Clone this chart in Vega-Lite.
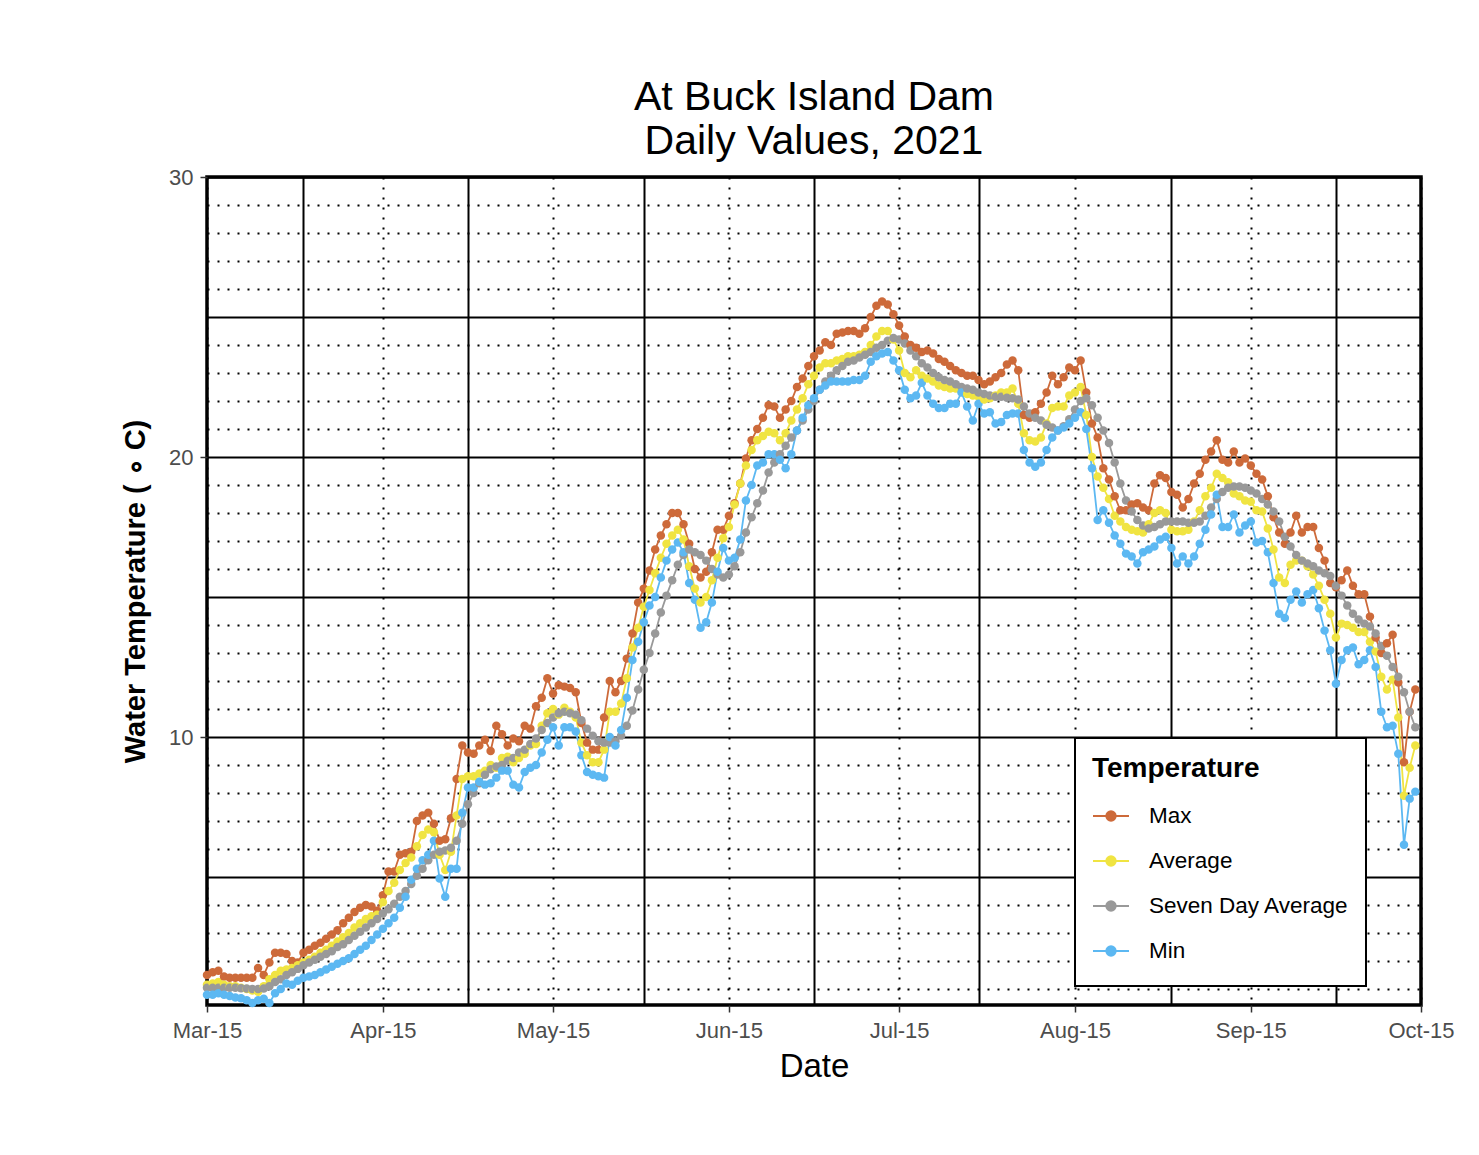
{
  "$schema": "https://vega.github.io/schema/vega-lite/v6.json",
  "autosize": {"type": "none"},
  "padding": {"left": 207, "top": 177, "right": 58, "bottom": 150},
  "width": 1214,
  "height": 828,
  "background": "white",
  "title": {
    "text": ["At Buck Island Dam ", "Daily Values, 2021"],
    "fontSize": 41,
    "fontWeight": "normal",
    "font": "Liberation Sans",
    "color": "black",
    "anchor": "middle",
    "frame": "group",
    "lineHeight": 44,
    "offset": 3
  },
  "data": {"values": [
{"date":"2021-03-15","Max":1.5,"Average":1.15,"Seven Day Average":1.05,"Min":0.8},
{"date":"2021-03-16","Max":1.6,"Average":1.2,"Seven Day Average":1.05,"Min":0.8},
{"date":"2021-03-17","Max":1.65,"Average":1.25,"Seven Day Average":1.05,"Min":0.85},
{"date":"2021-03-18","Max":1.45,"Average":1.15,"Seven Day Average":1.05,"Min":0.8},
{"date":"2021-03-19","Max":1.4,"Average":1.1,"Seven Day Average":1.05,"Min":0.75},
{"date":"2021-03-20","Max":1.4,"Average":1.1,"Seven Day Average":1.05,"Min":0.7},
{"date":"2021-03-21","Max":1.4,"Average":1.05,"Seven Day Average":1.03,"Min":0.67},
{"date":"2021-03-22","Max":1.4,"Average":1.0,"Seven Day Average":1.02,"Min":0.6},
{"date":"2021-03-23","Max":1.4,"Average":0.95,"Seven Day Average":1.0,"Min":0.5},
{"date":"2021-03-24","Max":1.75,"Average":0.9,"Seven Day Average":1.0,"Min":0.6},
{"date":"2021-03-25","Max":1.5,"Average":1.1,"Seven Day Average":1.02,"Min":0.65},
{"date":"2021-03-26","Max":1.95,"Average":1.35,"Seven Day Average":1.1,"Min":0.5},
{"date":"2021-03-27","Max":2.3,"Average":1.5,"Seven Day Average":1.25,"Min":0.85},
{"date":"2021-03-28","Max":2.3,"Average":1.65,"Seven Day Average":1.35,"Min":1.0},
{"date":"2021-03-29","Max":2.25,"Average":1.7,"Seven Day Average":1.5,"Min":1.2},
{"date":"2021-03-30","Max":2.0,"Average":1.75,"Seven Day Average":1.6,"Min":1.15},
{"date":"2021-03-31","Max":1.95,"Average":1.85,"Seven Day Average":1.72,"Min":1.3},
{"date":"2021-04-01","Max":2.3,"Average":1.95,"Seven Day Average":1.85,"Min":1.4},
{"date":"2021-04-02","Max":2.4,"Average":2.05,"Seven Day Average":1.95,"Min":1.45},
{"date":"2021-04-03","Max":2.55,"Average":2.15,"Seven Day Average":2.05,"Min":1.5},
{"date":"2021-04-04","Max":2.65,"Average":2.3,"Seven Day Average":2.15,"Min":1.6},
{"date":"2021-04-05","Max":2.8,"Average":2.4,"Seven Day Average":2.25,"Min":1.7},
{"date":"2021-04-06","Max":2.95,"Average":2.55,"Seven Day Average":2.35,"Min":1.8},
{"date":"2021-04-07","Max":3.1,"Average":2.7,"Seven Day Average":2.5,"Min":1.9},
{"date":"2021-04-08","Max":3.35,"Average":2.85,"Seven Day Average":2.6,"Min":2.0},
{"date":"2021-04-09","Max":3.55,"Average":3.0,"Seven Day Average":2.75,"Min":2.1},
{"date":"2021-04-10","Max":3.75,"Average":3.2,"Seven Day Average":2.9,"Min":2.25},
{"date":"2021-04-11","Max":3.9,"Average":3.35,"Seven Day Average":3.05,"Min":2.4},
{"date":"2021-04-12","Max":4.0,"Average":3.5,"Seven Day Average":3.2,"Min":2.55},
{"date":"2021-04-13","Max":3.95,"Average":3.6,"Seven Day Average":3.35,"Min":2.75},
{"date":"2021-04-14","Max":3.8,"Average":3.65,"Seven Day Average":3.5,"Min":2.95},
{"date":"2021-04-15","Max":4.35,"Average":4.1,"Seven Day Average":3.7,"Min":3.15},
{"date":"2021-04-16","Max":5.2,"Average":4.5,"Seven Day Average":3.85,"Min":3.35},
{"date":"2021-04-17","Max":5.2,"Average":4.8,"Seven Day Average":4.05,"Min":3.55},
{"date":"2021-04-18","Max":5.8,"Average":5.25,"Seven Day Average":4.3,"Min":3.9},
{"date":"2021-04-19","Max":5.85,"Average":5.5,"Seven Day Average":4.5,"Min":4.3},
{"date":"2021-04-20","Max":5.9,"Average":5.7,"Seven Day Average":4.75,"Min":4.9},
{"date":"2021-04-21","Max":7.0,"Average":6.1,"Seven Day Average":5.05,"Min":5.3},
{"date":"2021-04-22","Max":7.2,"Average":6.5,"Seven Day Average":5.3,"Min":5.6},
{"date":"2021-04-23","Max":7.3,"Average":6.7,"Seven Day Average":5.6,"Min":5.8},
{"date":"2021-04-24","Max":6.9,"Average":6.6,"Seven Day Average":5.8,"Min":6.3},
{"date":"2021-04-25","Max":6.3,"Average":5.8,"Seven Day Average":5.9,"Min":4.95},
{"date":"2021-04-26","Max":6.35,"Average":5.25,"Seven Day Average":5.95,"Min":4.3},
{"date":"2021-04-27","Max":7.1,"Average":5.9,"Seven Day Average":6.05,"Min":5.3},
{"date":"2021-04-28","Max":8.5,"Average":7.2,"Seven Day Average":6.3,"Min":5.3},
{"date":"2021-04-29","Max":9.7,"Average":8.5,"Seven Day Average":6.9,"Min":7.3},
{"date":"2021-04-30","Max":9.45,"Average":8.6,"Seven Day Average":7.6,"Min":8.2},
{"date":"2021-05-01","Max":9.4,"Average":8.6,"Seven Day Average":8.0,"Min":8.2},
{"date":"2021-05-02","Max":9.7,"Average":8.7,"Seven Day Average":8.35,"Min":8.4},
{"date":"2021-05-03","Max":9.9,"Average":8.8,"Seven Day Average":8.65,"Min":8.3},
{"date":"2021-05-04","Max":9.5,"Average":9.0,"Seven Day Average":8.85,"Min":8.35},
{"date":"2021-05-05","Max":10.4,"Average":8.9,"Seven Day Average":8.95,"Min":8.55},
{"date":"2021-05-06","Max":10.1,"Average":9.25,"Seven Day Average":9.0,"Min":8.8},
{"date":"2021-05-07","Max":9.7,"Average":9.3,"Seven Day Average":9.15,"Min":8.8},
{"date":"2021-05-08","Max":9.95,"Average":9.1,"Seven Day Average":9.25,"Min":8.3},
{"date":"2021-05-09","Max":9.85,"Average":9.25,"Seven Day Average":9.45,"Min":8.2},
{"date":"2021-05-10","Max":10.4,"Average":9.4,"Seven Day Average":9.55,"Min":8.75},
{"date":"2021-05-11","Max":10.3,"Average":9.7,"Seven Day Average":9.75,"Min":8.9},
{"date":"2021-05-12","Max":11.1,"Average":9.75,"Seven Day Average":9.95,"Min":9.0},
{"date":"2021-05-13","Max":11.4,"Average":10.4,"Seven Day Average":10.25,"Min":9.45},
{"date":"2021-05-14","Max":12.1,"Average":10.85,"Seven Day Average":10.5,"Min":9.9},
{"date":"2021-05-15","Max":11.55,"Average":11.0,"Seven Day Average":10.7,"Min":10.35},
{"date":"2021-05-16","Max":11.85,"Average":10.8,"Seven Day Average":10.85,"Min":9.7},
{"date":"2021-05-17","Max":11.8,"Average":11.05,"Seven Day Average":10.9,"Min":10.35},
{"date":"2021-05-18","Max":11.75,"Average":10.9,"Seven Day Average":10.85,"Min":10.35},
{"date":"2021-05-19","Max":11.6,"Average":10.7,"Seven Day Average":10.8,"Min":10.2},
{"date":"2021-05-20","Max":10.5,"Average":9.8,"Seven Day Average":10.6,"Min":9.35},
{"date":"2021-05-21","Max":9.8,"Average":9.35,"Seven Day Average":10.3,"Min":8.75},
{"date":"2021-05-22","Max":9.55,"Average":9.1,"Seven Day Average":10.05,"Min":8.65},
{"date":"2021-05-23","Max":9.55,"Average":9.1,"Seven Day Average":9.85,"Min":8.6},
{"date":"2021-05-24","Max":10.7,"Average":9.55,"Seven Day Average":9.8,"Min":8.55},
{"date":"2021-05-25","Max":12.0,"Average":10.9,"Seven Day Average":9.8,"Min":10.0},
{"date":"2021-05-26","Max":11.6,"Average":10.9,"Seven Day Average":9.85,"Min":9.7},
{"date":"2021-05-27","Max":12.0,"Average":11.2,"Seven Day Average":10.05,"Min":10.25},
{"date":"2021-05-28","Max":12.8,"Average":12.1,"Seven Day Average":10.4,"Min":11.4},
{"date":"2021-05-29","Max":13.7,"Average":13.2,"Seven Day Average":10.95,"Min":12.75},
{"date":"2021-05-30","Max":14.8,"Average":13.9,"Seven Day Average":11.7,"Min":13.4},
{"date":"2021-05-31","Max":15.3,"Average":14.65,"Seven Day Average":12.4,"Min":14.1},
{"date":"2021-06-01","Max":15.95,"Average":15.25,"Seven Day Average":13.0,"Min":14.7},
{"date":"2021-06-02","Max":16.7,"Average":15.85,"Seven Day Average":13.7,"Min":15.0},
{"date":"2021-06-03","Max":17.2,"Average":16.4,"Seven Day Average":14.45,"Min":15.7},
{"date":"2021-06-04","Max":17.6,"Average":16.9,"Seven Day Average":15.05,"Min":16.3},
{"date":"2021-06-05","Max":18.0,"Average":17.2,"Seven Day Average":15.6,"Min":16.7},
{"date":"2021-06-06","Max":18.0,"Average":17.4,"Seven Day Average":16.15,"Min":16.95},
{"date":"2021-06-07","Max":17.6,"Average":17.05,"Seven Day Average":16.5,"Min":16.6},
{"date":"2021-06-08","Max":16.9,"Average":16.1,"Seven Day Average":16.7,"Min":15.5},
{"date":"2021-06-09","Max":16.0,"Average":15.3,"Seven Day Average":16.6,"Min":14.9},
{"date":"2021-06-10","Max":15.7,"Average":14.8,"Seven Day Average":16.5,"Min":13.9},
{"date":"2021-06-11","Max":15.9,"Average":15.0,"Seven Day Average":16.3,"Min":14.1},
{"date":"2021-06-12","Max":16.6,"Average":15.6,"Seven Day Average":16.0,"Min":14.8},
{"date":"2021-06-13","Max":17.4,"Average":16.4,"Seven Day Average":15.8,"Min":15.9},
{"date":"2021-06-14","Max":17.4,"Average":17.1,"Seven Day Average":15.7,"Min":16.75},
{"date":"2021-06-15","Max":17.9,"Average":17.5,"Seven Day Average":15.8,"Min":16.3},
{"date":"2021-06-16","Max":18.35,"Average":18.3,"Seven Day Average":16.1,"Min":16.4},
{"date":"2021-06-17","Max":19.05,"Average":19.05,"Seven Day Average":16.6,"Min":17.05},
{"date":"2021-06-18","Max":19.95,"Average":19.7,"Seven Day Average":17.3,"Min":18.45},
{"date":"2021-06-19","Max":20.6,"Average":20.25,"Seven Day Average":17.85,"Min":19.0},
{"date":"2021-06-20","Max":21.0,"Average":20.6,"Seven Day Average":18.35,"Min":19.7},
{"date":"2021-06-21","Max":21.4,"Average":20.75,"Seven Day Average":18.8,"Min":19.8},
{"date":"2021-06-22","Max":21.85,"Average":20.9,"Seven Day Average":19.45,"Min":20.1},
{"date":"2021-06-23","Max":21.8,"Average":20.85,"Seven Day Average":19.8,"Min":20.1},
{"date":"2021-06-24","Max":21.4,"Average":20.6,"Seven Day Average":20.1,"Min":19.9},
{"date":"2021-06-25","Max":21.7,"Average":20.85,"Seven Day Average":20.4,"Min":19.6},
{"date":"2021-06-26","Max":22.0,"Average":21.3,"Seven Day Average":20.7,"Min":20.1},
{"date":"2021-06-27","Max":22.5,"Average":21.7,"Seven Day Average":20.95,"Min":20.95},
{"date":"2021-06-28","Max":22.8,"Average":22.1,"Seven Day Average":21.3,"Min":21.4},
{"date":"2021-06-29","Max":23.25,"Average":22.6,"Seven Day Average":21.7,"Min":21.85},
{"date":"2021-06-30","Max":23.6,"Average":22.9,"Seven Day Average":22.0,"Min":22.1},
{"date":"2021-07-01","Max":23.8,"Average":23.2,"Seven Day Average":22.4,"Min":22.4},
{"date":"2021-07-02","Max":24.1,"Average":23.35,"Seven Day Average":22.7,"Min":22.55},
{"date":"2021-07-03","Max":24.0,"Average":23.35,"Seven Day Average":22.9,"Min":22.7},
{"date":"2021-07-04","Max":24.4,"Average":23.45,"Seven Day Average":23.1,"Min":22.7},
{"date":"2021-07-05","Max":24.45,"Average":23.5,"Seven Day Average":23.25,"Min":22.7},
{"date":"2021-07-06","Max":24.5,"Average":23.6,"Seven Day Average":23.4,"Min":22.7},
{"date":"2021-07-07","Max":24.5,"Average":23.6,"Seven Day Average":23.45,"Min":22.75},
{"date":"2021-07-08","Max":24.4,"Average":23.65,"Seven Day Average":23.55,"Min":22.75},
{"date":"2021-07-09","Max":24.6,"Average":23.75,"Seven Day Average":23.65,"Min":22.9},
{"date":"2021-07-10","Max":25.0,"Average":24.0,"Seven Day Average":23.75,"Min":23.4},
{"date":"2021-07-11","Max":25.4,"Average":24.3,"Seven Day Average":23.9,"Min":23.6},
{"date":"2021-07-12","Max":25.55,"Average":24.5,"Seven Day Average":24.0,"Min":23.7},
{"date":"2021-07-13","Max":25.45,"Average":24.5,"Seven Day Average":24.15,"Min":23.75},
{"date":"2021-07-14","Max":25.1,"Average":24.2,"Seven Day Average":24.25,"Min":23.45},
{"date":"2021-07-15","Max":24.7,"Average":23.8,"Seven Day Average":24.2,"Min":23.1},
{"date":"2021-07-16","Max":24.3,"Average":23.0,"Seven Day Average":24.05,"Min":22.4},
{"date":"2021-07-17","Max":24.0,"Average":22.85,"Seven Day Average":23.8,"Min":22.1},
{"date":"2021-07-18","Max":23.9,"Average":23.1,"Seven Day Average":23.6,"Min":22.2},
{"date":"2021-07-19","Max":23.75,"Average":22.9,"Seven Day Average":23.35,"Min":22.65},
{"date":"2021-07-20","Max":23.8,"Average":22.8,"Seven Day Average":23.2,"Min":22.2},
{"date":"2021-07-21","Max":23.7,"Average":22.7,"Seven Day Average":23.0,"Min":21.9},
{"date":"2021-07-22","Max":23.5,"Average":22.55,"Seven Day Average":22.85,"Min":21.75},
{"date":"2021-07-23","Max":23.4,"Average":22.5,"Seven Day Average":22.75,"Min":21.75},
{"date":"2021-07-24","Max":23.25,"Average":22.45,"Seven Day Average":22.7,"Min":21.9},
{"date":"2021-07-25","Max":23.1,"Average":22.45,"Seven Day Average":22.6,"Min":21.9},
{"date":"2021-07-26","Max":23.0,"Average":22.35,"Seven Day Average":22.5,"Min":22.3},
{"date":"2021-07-27","Max":22.9,"Average":22.25,"Seven Day Average":22.45,"Min":21.8},
{"date":"2021-07-28","Max":22.9,"Average":22.2,"Seven Day Average":22.4,"Min":21.3},
{"date":"2021-07-29","Max":22.75,"Average":22.15,"Seven Day Average":22.3,"Min":21.9},
{"date":"2021-07-30","Max":22.6,"Average":22.05,"Seven Day Average":22.25,"Min":21.55},
{"date":"2021-07-31","Max":22.7,"Average":22.1,"Seven Day Average":22.2,"Min":21.6},
{"date":"2021-08-01","Max":22.85,"Average":22.2,"Seven Day Average":22.15,"Min":21.2},
{"date":"2021-08-02","Max":23.0,"Average":22.3,"Seven Day Average":22.15,"Min":21.25},
{"date":"2021-08-03","Max":23.3,"Average":22.3,"Seven Day Average":22.12,"Min":21.5},
{"date":"2021-08-04","Max":23.45,"Average":22.45,"Seven Day Average":22.1,"Min":21.55},
{"date":"2021-08-05","Max":23.1,"Average":21.9,"Seven Day Average":22.05,"Min":21.55},
{"date":"2021-08-06","Max":21.5,"Average":20.85,"Seven Day Average":21.8,"Min":20.25},
{"date":"2021-08-07","Max":21.4,"Average":20.6,"Seven Day Average":21.55,"Min":19.8},
{"date":"2021-08-08","Max":21.6,"Average":20.55,"Seven Day Average":21.4,"Min":19.65},
{"date":"2021-08-09","Max":21.9,"Average":20.7,"Seven Day Average":21.3,"Min":19.8},
{"date":"2021-08-10","Max":22.3,"Average":21.2,"Seven Day Average":21.15,"Min":20.25},
{"date":"2021-08-11","Max":22.9,"Average":21.75,"Seven Day Average":21.05,"Min":20.7},
{"date":"2021-08-12","Max":22.6,"Average":21.8,"Seven Day Average":20.95,"Min":20.95},
{"date":"2021-08-13","Max":22.85,"Average":21.8,"Seven Day Average":21.1,"Min":21.05},
{"date":"2021-08-14","Max":23.2,"Average":22.2,"Seven Day Average":21.35,"Min":21.2},
{"date":"2021-08-15","Max":23.1,"Average":22.3,"Seven Day Average":21.7,"Min":21.4},
{"date":"2021-08-16","Max":23.45,"Average":22.5,"Seven Day Average":22.0,"Min":21.6},
{"date":"2021-08-17","Max":22.3,"Average":21.5,"Seven Day Average":22.1,"Min":21.0},
{"date":"2021-08-18","Max":21.2,"Average":20.0,"Seven Day Average":21.85,"Min":19.6},
{"date":"2021-08-19","Max":20.7,"Average":19.3,"Seven Day Average":21.4,"Min":17.75},
{"date":"2021-08-20","Max":19.6,"Average":18.9,"Seven Day Average":20.95,"Min":18.1},
{"date":"2021-08-21","Max":19.2,"Average":18.5,"Seven Day Average":20.5,"Min":17.65},
{"date":"2021-08-22","Max":18.6,"Average":17.9,"Seven Day Average":19.8,"Min":17.2},
{"date":"2021-08-23","Max":18.1,"Average":17.7,"Seven Day Average":19.05,"Min":16.9},
{"date":"2021-08-24","Max":18.1,"Average":17.5,"Seven Day Average":18.45,"Min":16.55},
{"date":"2021-08-25","Max":18.3,"Average":17.4,"Seven Day Average":18.05,"Min":16.45},
{"date":"2021-08-26","Max":18.35,"Average":17.35,"Seven Day Average":17.75,"Min":16.2},
{"date":"2021-08-27","Max":18.2,"Average":17.3,"Seven Day Average":17.55,"Min":16.6},
{"date":"2021-08-28","Max":18.1,"Average":17.6,"Seven Day Average":17.45,"Min":16.7},
{"date":"2021-08-29","Max":19.05,"Average":18.0,"Seven Day Average":17.5,"Min":16.8},
{"date":"2021-08-30","Max":19.35,"Average":18.1,"Seven Day Average":17.6,"Min":17.05},
{"date":"2021-08-31","Max":19.25,"Average":18.0,"Seven Day Average":17.7,"Min":17.15},
{"date":"2021-09-01","Max":18.75,"Average":17.4,"Seven Day Average":17.7,"Min":16.75},
{"date":"2021-09-02","Max":18.65,"Average":17.35,"Seven Day Average":17.7,"Min":16.2},
{"date":"2021-09-03","Max":18.2,"Average":17.35,"Seven Day Average":17.7,"Min":16.45},
{"date":"2021-09-04","Max":18.5,"Average":17.4,"Seven Day Average":17.65,"Min":16.2},
{"date":"2021-09-05","Max":19.05,"Average":17.7,"Seven Day Average":17.65,"Min":16.45},
{"date":"2021-09-06","Max":19.4,"Average":18.1,"Seven Day Average":17.7,"Min":16.9},
{"date":"2021-09-07","Max":19.9,"Average":18.6,"Seven Day Average":17.9,"Min":17.4},
{"date":"2021-09-08","Max":20.2,"Average":18.9,"Seven Day Average":18.2,"Min":17.95},
{"date":"2021-09-09","Max":20.6,"Average":19.4,"Seven Day Average":18.5,"Min":18.65},
{"date":"2021-09-10","Max":19.9,"Average":19.25,"Seven Day Average":18.75,"Min":17.5},
{"date":"2021-09-11","Max":19.8,"Average":19.1,"Seven Day Average":18.9,"Min":17.5},
{"date":"2021-09-12","Max":20.2,"Average":18.7,"Seven Day Average":18.95,"Min":17.95},
{"date":"2021-09-13","Max":19.8,"Average":18.6,"Seven Day Average":18.95,"Min":17.3},
{"date":"2021-09-14","Max":19.95,"Average":18.45,"Seven Day Average":18.9,"Min":17.55},
{"date":"2021-09-15","Max":19.7,"Average":18.4,"Seven Day Average":18.8,"Min":17.7},
{"date":"2021-09-16","Max":19.4,"Average":18.1,"Seven Day Average":18.7,"Min":16.95},
{"date":"2021-09-17","Max":19.2,"Average":18.05,"Seven Day Average":18.5,"Min":17.0},
{"date":"2021-09-18","Max":18.6,"Average":17.45,"Seven Day Average":18.3,"Min":16.6},
{"date":"2021-09-19","Max":17.85,"Average":16.7,"Seven Day Average":18.05,"Min":15.5},
{"date":"2021-09-20","Max":17.3,"Average":15.7,"Seven Day Average":17.7,"Min":14.4},
{"date":"2021-09-21","Max":16.9,"Average":15.5,"Seven Day Average":17.15,"Min":14.25},
{"date":"2021-09-22","Max":17.3,"Average":16.15,"Seven Day Average":16.8,"Min":14.9},
{"date":"2021-09-23","Max":17.9,"Average":16.3,"Seven Day Average":16.5,"Min":15.2},
{"date":"2021-09-24","Max":17.3,"Average":16.3,"Seven Day Average":16.3,"Min":14.8},
{"date":"2021-09-25","Max":17.5,"Average":16.1,"Seven Day Average":16.2,"Min":15.1},
{"date":"2021-09-26","Max":17.5,"Average":15.8,"Seven Day Average":16.1,"Min":15.25},
{"date":"2021-09-27","Max":16.75,"Average":15.4,"Seven Day Average":15.95,"Min":14.6},
{"date":"2021-09-28","Max":16.3,"Average":14.9,"Seven Day Average":15.85,"Min":13.8},
{"date":"2021-09-29","Max":15.5,"Average":14.4,"Seven Day Average":15.75,"Min":13.1},
{"date":"2021-09-30","Max":15.35,"Average":13.55,"Seven Day Average":15.4,"Min":11.9},
{"date":"2021-10-01","Max":15.6,"Average":14.05,"Seven Day Average":15.05,"Min":12.75},
{"date":"2021-10-02","Max":15.95,"Average":14.0,"Seven Day Average":14.7,"Min":13.1},
{"date":"2021-10-03","Max":15.4,"Average":13.9,"Seven Day Average":14.4,"Min":13.2},
{"date":"2021-10-04","Max":15.1,"Average":13.75,"Seven Day Average":14.2,"Min":12.6},
{"date":"2021-10-05","Max":15.1,"Average":13.75,"Seven Day Average":14.05,"Min":12.75},
{"date":"2021-10-06","Max":14.3,"Average":13.4,"Seven Day Average":13.95,"Min":13.1},
{"date":"2021-10-07","Max":13.55,"Average":13.05,"Seven Day Average":13.7,"Min":12.5},
{"date":"2021-10-08","Max":13.0,"Average":12.15,"Seven Day Average":13.25,"Min":10.9},
{"date":"2021-10-09","Max":13.35,"Average":11.7,"Seven Day Average":12.9,"Min":10.35},
{"date":"2021-10-10","Max":13.65,"Average":12.05,"Seven Day Average":12.5,"Min":10.4},
{"date":"2021-10-11","Max":11.95,"Average":10.7,"Seven Day Average":12.15,"Min":9.4},
{"date":"2021-10-12","Max":9.1,"Average":7.9,"Seven Day Average":11.6,"Min":6.15},
{"date":"2021-10-13","Max":10.9,"Average":8.9,"Seven Day Average":10.9,"Min":7.8},
{"date":"2021-10-14","Max":11.7,"Average":9.7,"Seven Day Average":10.35,"Min":8.05}
  ]},
  "transform": [
    {"fold": ["Max", "Average", "Seven Day Average", "Min"], "as": ["Temperature", "value"]}
  ],
  "mark": {
    "type": "line",
    "strokeWidth": 1.8,
    "point": {"filled": true, "size": 72, "opacity": 1}
  },
  "encoding": {
    "x": {
      "field": "date",
      "type": "temporal",
      "scale": {
        "type": "utc",
        "domain": [
          {"year": 2021, "month": 3, "date": 15, "utc": true},
          {"year": 2021, "month": 10, "date": 15, "utc": true}
        ]
      },
      "axis": {
        "title": "Date",
        "values": [
          {"year": 2021, "month": 3, "date": 15, "utc": true},
          {"year": 2021, "month": 4, "date": 1, "utc": true},
          {"year": 2021, "month": 4, "date": 15, "utc": true},
          {"year": 2021, "month": 4, "date": 30, "utc": true},
          {"year": 2021, "month": 5, "date": 15, "utc": true},
          {"year": 2021, "month": 5, "date": 31, "utc": true},
          {"year": 2021, "month": 6, "date": 15, "utc": true},
          {"year": 2021, "month": 6, "date": 30, "utc": true},
          {"year": 2021, "month": 7, "date": 15, "utc": true},
          {"year": 2021, "month": 7, "date": 29, "utc": true},
          {"year": 2021, "month": 8, "date": 15, "utc": true},
          {"year": 2021, "month": 9, "date": 1, "utc": true},
          {"year": 2021, "month": 9, "date": 15, "utc": true},
          {"year": 2021, "month": 9, "date": 30, "utc": true},
          {"year": 2021, "month": 10, "date": 15, "utc": true}
        ],
        "labelExpr": "utcdate(datum.value) === 15 ? utcFormat(datum.value, '%b-%d') : ''",
        "labelFlush": false,
        "labelOverlap": false,
        "tickOpacity": {"condition": {"test": "utcdate(datum.value) === 15", "value": 1}, "value": 0},
        "gridDash": {"condition": {"test": "utcdate(datum.value) === 15", "value": [2, 8]}, "value": []},
        "labelPadding": 8,
        "titlePadding": 9
      }
    },
    "y": {
      "field": "value",
      "type": "quantitative",
      "scale": {"domain": [0.43, 30], "nice": false, "zero": false},
      "axis": {
        "title": "Water Temperature ( ∘ C)",
        "values": [1,2,3,4,5,6,7,8,9,10,11,12,13,14,15,16,17,18,19,20,21,22,23,24,25,26,27,28,29,30],
        "labelExpr": "datum.value % 10 === 0 ? datum.label : ''",
        "labelOverlap": false,
        "tickOpacity": {"condition": {"test": "datum.value % 10 === 0", "value": 1}, "value": 0},
        "gridDash": {"condition": {"test": "datum.value % 5 === 0", "value": []}, "value": [2, 8]},
        "labelPadding": 7,
        "titleFontWeight": "bold",
        "titleFontSize": 29,
        "titlePadding": 18
      }
    },
    "color": {
      "field": "Temperature",
      "type": "nominal",
      "scale": {
        "domain": ["Max", "Average", "Seven Day Average", "Min"],
        "range": ["#CD6A3A", "#F0E442", "#999999", "#5CB8F2"]
      },
      "legend": {
        "title": "Temperature",
        "orient": "none",
        "legendX": 868,
        "legendY": 561,
        "symbolType": "M-1,0L1,0M-0.26,0A0.26,0.26,0,1,1,0.26,0A0.26,0.26,0,1,1,-0.26,0Z",
        "symbolSize": 1296,
        "symbolStrokeWidth": 2,
        "labelOffset": 19,
        "labelLimit": 500,
        "labelFontSize": 22.5,
        "clipHeight": 36,
        "rowPadding": 9,
        "titlePadding": 15,
        "padding": 17,
        "encode": {
          "symbols": {
            "update": {
              "fill": {"scale": "color", "field": "value"},
              "stroke": {"scale": "color", "field": "value"},
              "opacity": {"value": 1}
            }
          }
        }
      }
    }
  },
  "config": {
    "font": "Liberation Sans",
    "view": {"stroke": "black", "strokeWidth": 3.5},
    "axis": {
      "domain": false,
      "grid": true,
      "gridColor": "black",
      "gridWidth": 2,
      "gridOpacity": 1,
      "tickColor": "#333333",
      "tickSize": 7,
      "tickWidth": 1.5,
      "labelFontSize": 22,
      "labelColor": "#4D4D4D",
      "labelFont": "Liberation Sans",
      "titleFont": "Liberation Sans",
      "titleColor": "black",
      "titleFontSize": 33,
      "titleFontWeight": "normal"
    },
    "legend": {
      "titleFontSize": 28,
      "titleFontWeight": "bold",
      "titleColor": "black",
      "titleFont": "Liberation Sans",
      "labelColor": "black",
      "labelFont": "Liberation Sans",
      "strokeColor": "black",
      "strokeWidth": 2,
      "fillColor": "white"
    }
  }
}
